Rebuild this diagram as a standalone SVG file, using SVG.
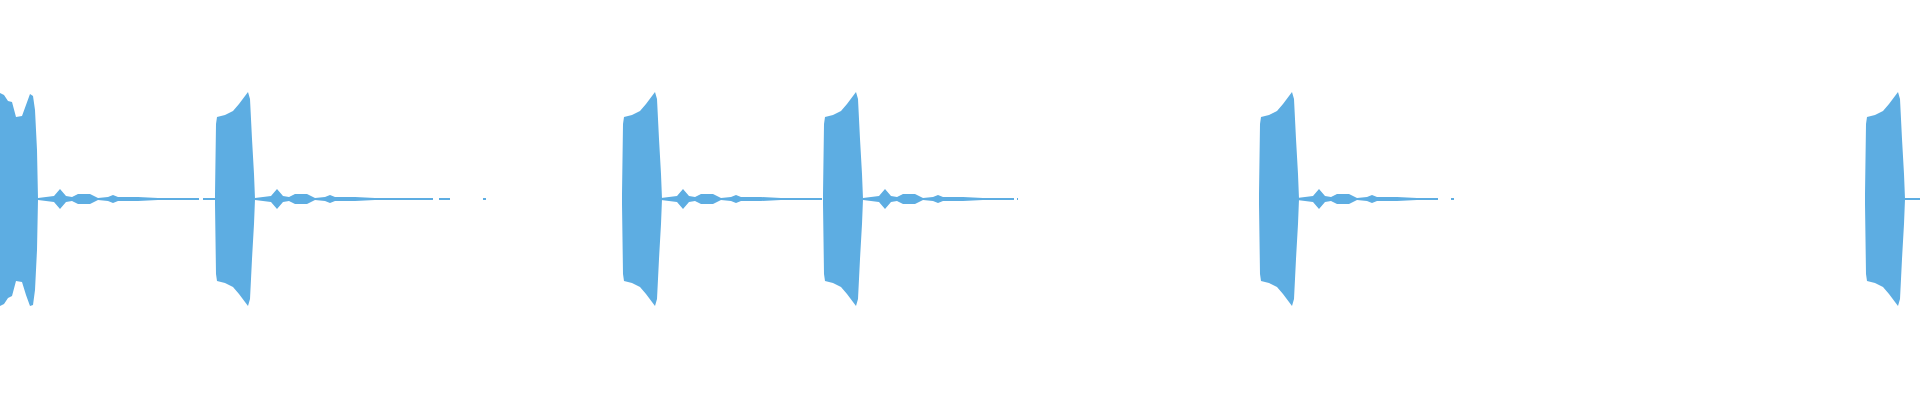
<svg xmlns="http://www.w3.org/2000/svg" width="1920" height="400" viewBox="0 0 1920 400">
<style>.w{fill:#5dade2}.l{stroke:#5dade2;stroke-width:2;fill:none}</style>
<defs>
<path id="b" d="M0,-5 L1,-75 L2,-82 L10,-84 L18,-88 L24,-95 L30,-103 L33,-107 L35,-100 L37,-60 L39,-25 L40,0 L39,25 L37,60 L35,100 L33,107 L30,103 L24,95 L18,88 L10,84 L2,82 L1,75 L0,5 Z"/>
<path id="t" d="M0,-1 L8,-2 L16,-3 L22,-10 L28,-3 L34,-2 L40,-5 L52,-5 L60,-1 L70,-2 L75,-4 L80,-2 L100,-2 L120,-1 L120,1 L100,2 L80,2 L75,4 L70,2 L60,1 L52,5 L40,5 L34,2 L28,3 L22,10 L16,3 L8,2 L0,1 Z"/>
</defs>
<g id="waveform">
<path class="w" d="M0,93 L4,95 L8,101 L12,102 L16,117 L22,116 L26,105 L30,94 L33,96 L35,110 L37,150 L38,199 L37,250 L35,290 L33,305 L30,306 L26,295 L22,282 L16,281 L12,296 L8,298 L4,304 L0,306 Z"/>
<use href="#b" class="w" x="215" y="199"/>
<use href="#b" class="w" x="622" y="199"/>
<use href="#b" class="w" x="823" y="199"/>
<use href="#b" class="w" x="1259" y="199"/>
<use href="#b" class="w" x="1865" y="199"/>
<use href="#t" class="w" x="38" y="199"/>
<use href="#t" class="w" x="255" y="199"/>
<use href="#t" class="w" x="661" y="199"/>
<use href="#t" class="w" x="863" y="199"/>
<use href="#t" class="w" x="1297" y="199"/>
<path class="l" d="M158,199 H199 M203,199 H215 M375,199 H433 M439,199 H450 M483,199 H486 M781,199 H822 M983,199 H1014 M1017,199 H1018 M1417,199 H1438 M1451,199 H1454 M1905,199 H1920"/>
</g>
</svg>
